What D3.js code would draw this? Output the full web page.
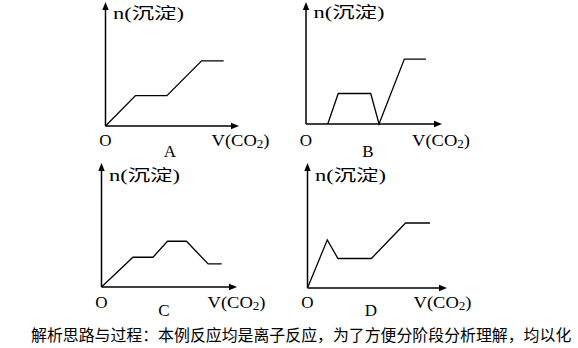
<!DOCTYPE html>
<meta charset="utf-8">
<script src="https://d3js.org/d3.v7.min.js"></script>
<style>
    body { margin: 0; background-color: white; }
    svg { display: block; }
    .lbl { font-family: "Liberation Serif", "Noto Sans CJK SC", serif; fill: #000; }
    .cap { font-family: "Noto Sans CJK SC", sans-serif; fill: #000; }
</style>
<body>
<script>
    // values, each axis runs 0..10 from origin to arrow tip
    var panelNames = ["A", "B", "C", "D"];
    var xA = [0, 2.25, 4.6, 7.2, 8.85];
    var yA = [0, 2.45, 2.45, 5.25, 5.25];
    var xB = [1.6, 2.37, 4.76, 5.37, 7.23, 8.82];
    var yB = [0, 2.5, 2.5, 0, 5.32, 5.32];
    var xC = [0, 2.32, 3.8, 4.87, 6.27, 7.87, 8.87];
    var yC = [0, 2.4, 2.4, 3.69, 3.69, 1.86, 1.86];
    var xD = [0, 1.42, 2.18, 4.58, 7.03, 8.78];
    var yD = [0, 3.85, 2.36, 2.36, 5.2, 5.2];
    var yTitle = "n(沉淀)";
    var caption = "解析思路与过程：本例反应均是离子反应，为了方便分阶段分析理解，均以化";

    var width = 578, height = 348;

    // where each small chart sits: origin and arrow tips
    var layout = [
        { ox: 105.5, oy: 126, xt: 239, yt: 2, xs: xA, ys: yA, lx: 170, ly: 157, ty: 19, tb: 146 },
        { ox: 306, oy: 124, xt: 442, yt: 2, xs: xB, ys: yB, lx: 368, ly: 157, ty: 18, tb: 146 },
        { ox: 101.5, oy: 287, xt: 237, yt: 163, xs: xC, ys: yC, lx: 164, ly: 316, ty: 181, tb: 308 },
        { ox: 307.5, oy: 288, xt: 447, yt: 163, xs: xD, ys: yD, lx: 371, ly: 316, ty: 181, tb: 308 }
    ];

    var svg = d3.select("body").append("svg")
        .attr("width", width)
        .attr("height", height);

    layout.forEach(function (p, i) {
        var g = svg.append("g");

        var x = d3.scaleLinear().domain([0, 10]).range([p.ox, p.xt]);
        var y = d3.scaleLinear().domain([0, 10]).range([p.oy, p.yt]);

        // axes with arrow heads
        g.append("line")
            .attr("x1", x(0)).attr("y1", y(0))
            .attr("x2", x(10) - 4).attr("y2", y(0))
            .attr("stroke", "#000").attr("stroke-width", 1.5);
        g.append("line")
            .attr("x1", x(0)).attr("y1", y(0))
            .attr("x2", x(0)).attr("y2", y(10) + 4)
            .attr("stroke", "#000").attr("stroke-width", 1.5);
        g.append("path")
            .attr("d", "M" + x(10) + "," + y(0) + "l-8,-3.2l0,6.4z")
            .attr("fill", "#000");
        g.append("path")
            .attr("d", "M" + x(0) + "," + y(10) + "l-3.2,8l6.4,0z")
            .attr("fill", "#000");

        // precipitate curve
        var pts = p.xs.map(function (v, j) { return [v, p.ys[j]]; });
        var line = d3.line()
            .x(function (d) { return x(d[0]); })
            .y(function (d) { return y(d[1]); });
        g.append("path")
            .attr("d", line(pts))
            .attr("fill", "none")
            .attr("stroke", "#000")
            .attr("stroke-width", 1.3);

        // labels
        g.append("text").attr("class", "lbl")
            .attr("x", p.ox + 7.5).attr("y", p.ty)
            .attr("font-size", 16)
            .attr("textLength", 71).attr("lengthAdjust", "spacingAndGlyphs")
            .text(yTitle);

        g.append("text").attr("class", "lbl")
            .attr("x", p.ox).attr("y", p.tb)
            .attr("text-anchor", "middle")
            .attr("font-size", 17)
            .attr("transform", "translate(0,0)")
            .text("O");

        var v = g.append("text").attr("class", "lbl")
            .attr("x", p.ox + 106).attr("y", p.tb)
            .attr("font-size", 17)
            .attr("textLength", 58).attr("lengthAdjust", "spacingAndGlyphs");
        v.append("tspan").text("V(CO");
        v.append("tspan").attr("font-size", 12).attr("dy", 2).text("2");
        v.append("tspan").attr("dy", -2).text(")");

        g.append("text").attr("class", "lbl")
            .attr("x", p.lx).attr("y", p.ly)
            .attr("text-anchor", "middle")
            .attr("font-size", 17)
            .text(panelNames[i]);
    });

    svg.append("text").attr("class", "cap")
        .attr("x", 31).attr("y", 341)
        .attr("font-size", 15.9)
        .text(caption);
</script>
</body>
